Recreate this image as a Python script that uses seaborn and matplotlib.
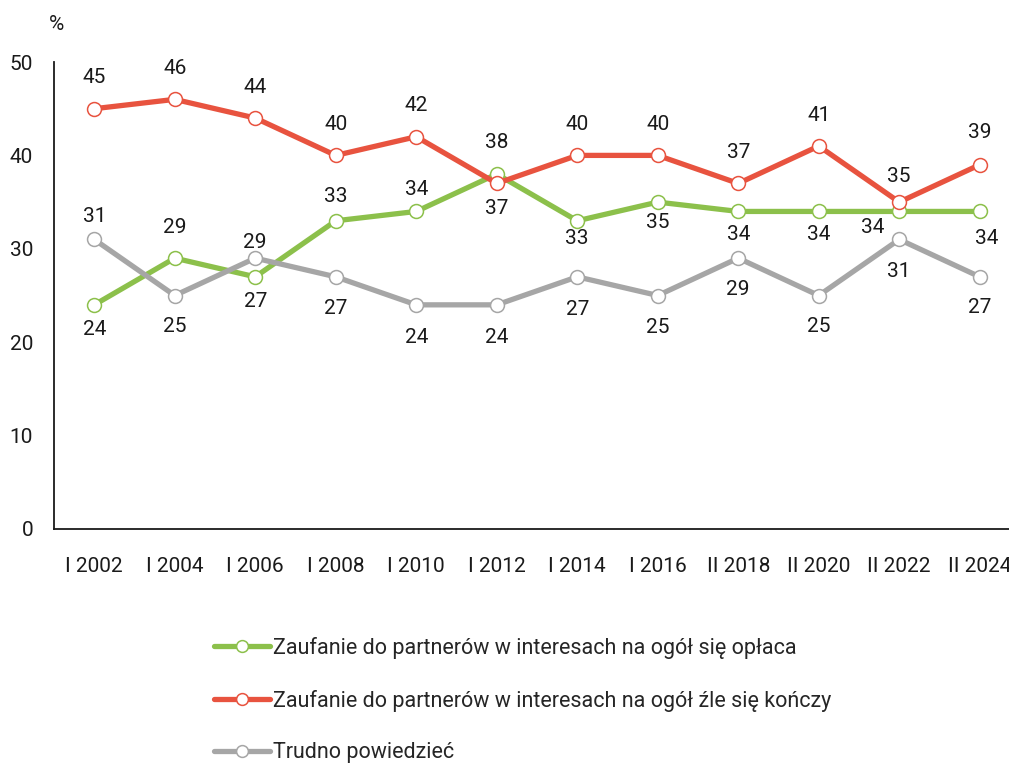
import matplotlib
matplotlib.use("Agg")
import matplotlib.pyplot as plt
import pandas as pd
import seaborn as sns

# dane z wykresu
periods = ["I 2002", "I 2004", "I 2006", "I 2008", "I 2010", "I 2012",
           "I 2014", "I 2016", "II 2018", "II 2020", "II 2022", "II 2024"]
oplaca = [24, 29, 27, 33, 34, 38, 33, 35, 34, 34, 34, 34]
zle = [45, 46, 44, 40, 42, 37, 40, 40, 37, 41, 35, 39]
trudno = [31, 25, 29, 27, 24, 24, 27, 25, 29, 25, 31, 27]

labels = ["Zaufanie do partnerów w interesach na ogół się opłaca",
          "Zaufanie do partnerów w interesach na ogół źle się kończy",
          "Trudno powiedzieć"]
colors = ["#8cc04b", "#e8533f", "#a6a6a6"]

# przesuniecia etykiet (px): dodatnie dy = w dol
off_oplaca = [(0, 25), (0, -31), (0, 25), (0, -24), (0, -22), (0, -32),
              (0, 18), (0, 20), (0, 23), (0, 23), (-27, 16), (7, 27)]
off_zle = [(0, -31), (0, -31), (0, -31), (0, -31), (0, -31), (0, 25),
           (0, -31), (0, -31), (0, -31), (0, -31), (0, -26), (0, -32)]
off_trudno = [(0, -23), (0, 31), (0, -16), (0, 32), (0, 33), (0, 33),
              (0, 33), (0, 32), (0, 31), (0, 31), (0, 32), (0, 31)]

sns.set_style("white")
plt.rcParams['font.family'] = ['Roboto', 'DejaVu Sans']

fig = plt.figure(figsize=(10.09, 7.63), dpi=100)
ax = fig.add_axes([54 / 1009, 234 / 763, 966 / 1009, 467 / 763])

xs = list(range(len(periods)))
series = [oplaca, zle, trudno]

for vals, lab, col in zip(series, labels, colors):
    df = pd.DataFrame({"x": xs, "y": vals})
    sns.lineplot(data=df, x="x", y="y", ax=ax, color=col, linewidth=3.8,
                 marker="o", markersize=10, markerfacecolor="white",
                 markeredgecolor=col, markeredgewidth=1.1, label=lab,
                 clip_on=False, zorder=3)

# etykiety wartosci
for vals, offs in zip([trudno, oplaca, zle], [off_trudno, off_oplaca, off_zle]):
    for x, v, (dx, dy) in zip(xs, vals, offs):
        ax.annotate(str(v), (x, v), xytext=(dx * 0.72, -dy * 0.72),
                    textcoords="offset points", ha="center", va="center",
                    fontsize=15, color="#1a1a1a", zorder=5)

ax.set_xlim(-0.5, len(periods) - 0.5)
ax.set_ylim(0, 50)
ax.set_xticks(xs)
ax.set_xticklabels(periods)
ax.set_yticks([0, 10, 20, 30, 40, 50])
ax.tick_params(axis="both", length=0, labelsize=15, colors="#1a1a1a")
ax.tick_params(axis="x", pad=20)
ax.tick_params(axis="y", pad=15)
ax.set_xlabel("")
ax.set_ylabel("")
for s in ["top", "right"]:
    ax.spines[s].set_visible(False)
for s in ["left", "bottom"]:
    ax.spines[s].set_color("#1a1a1a")
    ax.spines[s].set_linewidth(1.3)

fig.text(56 / 1009, 1 - 25 / 763, "%", ha="center", va="center",
         fontsize=15, color="#1a1a1a")

handles, lbls = ax.get_legend_handles_labels()
ax.get_legend().remove()
leg = fig.legend(handles, lbls, loc="upper left",
                 bbox_to_anchor=(214 / 1009, 1 - 637 / 763),
                 frameon=False, fontsize=15.5, handlelength=2.6, handletextpad=0.12,
                 labelspacing=1.42, borderaxespad=0, borderpad=0)
for h in leg.legend_handles:
    h.set_markersize(8.5)

fig.savefig("out.png", dpi=100)
